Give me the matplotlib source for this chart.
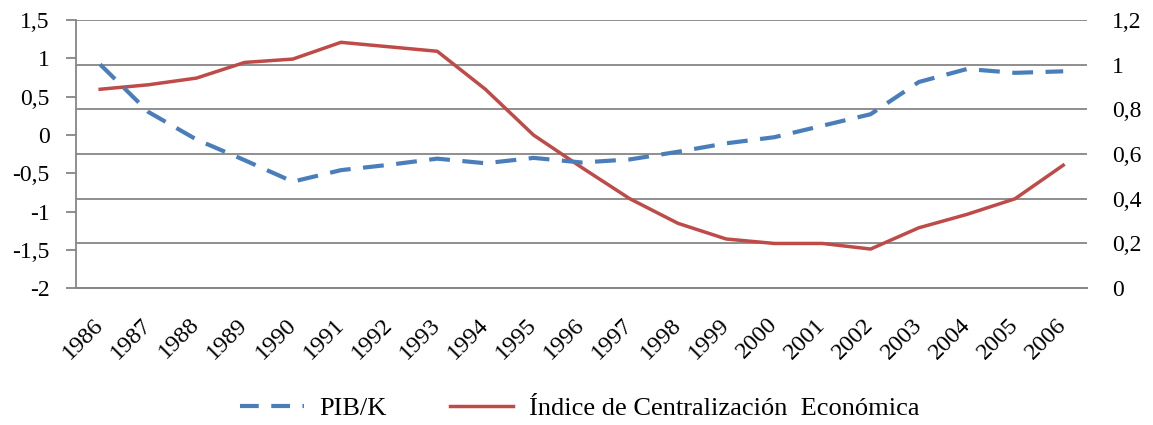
import matplotlib.pyplot as plt
from matplotlib.lines import Line2D
from matplotlib.ticker import FuncFormatter

years = [str(y) for y in range(1986, 2007)]
pib_k = [0.92, 0.30, -0.06, -0.33, -0.61, -0.46, -0.39, -0.31, -0.37, -0.30,
         -0.36, -0.32, -0.22, -0.11, -0.03, 0.12, 0.27, 0.69, 0.86, 0.81, 0.83]
indice = [0.89, 0.91, 0.94, 1.01, 1.025, 1.10, 1.08, 1.06, 0.89, 0.685,
          0.54, 0.40, 0.29, 0.22, 0.20, 0.20, 0.175, 0.27, 0.33, 0.40, 0.55]

left_ticks = [-2, -1.5, -1, -0.5, 0, 0.5, 1, 1.5]
right_ticks = [0, 0.2, 0.4, 0.6, 0.8, 1, 1.2]

BLUE = "#4A7EBB"
RED = "#BE4B48"
GRID = "#868686"


def comma(v, _pos):
    """Spanish decimal comma."""
    s = f"{v:g}"
    return s.replace(".", ",")


plt.rcParams['font.family'] = ['Liberation Serif', 'DejaVu Serif']

fig = plt.figure(figsize=(11.53, 4.25), dpi=100)
ax = fig.add_axes([0.066, 0.322, 0.877, 0.631])
ax2 = ax.twinx()

x = list(range(len(years)))

# gridlines follow the right axis
ax2.set_ylim(0, 1.2)
ax2.set_yticks(right_ticks)
ax2.yaxis.set_major_formatter(FuncFormatter(comma))
ax2.grid(axis="y", color=GRID, linewidth=1.3)
ax2.tick_params(axis="y", length=0, labelsize=17, pad=18)

ax.set_ylim(-2, 1.5)
ax.set_yticks(left_ticks)
ax.yaxis.set_major_formatter(FuncFormatter(comma))
ax.tick_params(axis="y", length=7, color=GRID, width=1.3, labelsize=17, pad=12)
ax.set_xlim(-0.5, len(years) - 0.5)
ax.set_xticks(x)
ax.set_xticklabels(years, rotation=45, ha="right", va="center",
                   rotation_mode="anchor")
ax.tick_params(axis="x", length=0, labelsize=17.5, pad=24)

for a in (ax, ax2):
    for side in ("top", "right"):
        a.spines[side].set_visible(False)
    a.spines["left"].set_color(GRID)
    a.spines["left"].set_linewidth(1.3)
    a.spines["bottom"].set_color(GRID)
    a.spines["bottom"].set_linewidth(1.3)
ax2.spines["left"].set_visible(False)

ax.plot(x, pib_k, color=BLUE, linewidth=3, dashes=(5, 3), zorder=3)
ax2.plot(x, indice, color=RED, linewidth=2.5, zorder=3)

ax.set_zorder(ax2.get_zorder() + 1)
ax.patch.set_visible(False)

# legend keys drawn with the same styles
key_pib = Line2D([], [], color=BLUE, linewidth=3, dashes=(4.5, 3), label="PIB/K")
key_ind = Line2D([], [], color=RED, linewidth=2.5,
                 label="Índice de Centralización  Económica")
fig.legend(handles=[key_pib, key_ind], loc="center", ncol=2,
           bbox_to_anchor=(0.503, 0.04), frameon=False, fontsize=19,
           handlelength=2.4, columnspacing=2.4, handletextpad=0.6)

fig.savefig("out.png", dpi=100)
